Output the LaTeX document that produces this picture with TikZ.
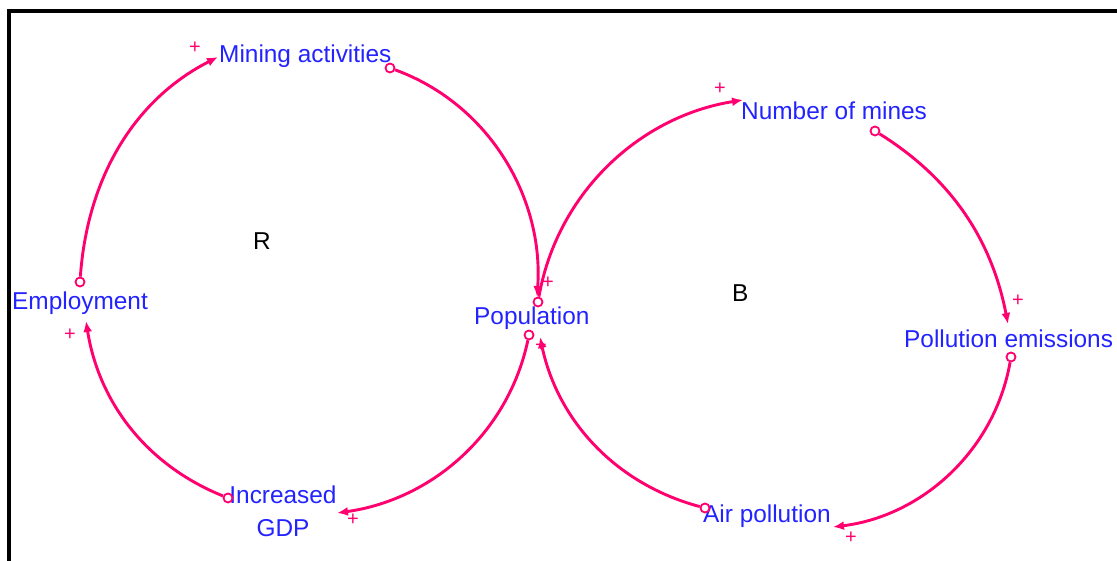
\documentclass[tikz,border=0pt]{standalone}
\usepackage{fontspec}
\setmainfont{Liberation Sans}
\usetikzlibrary{arrows.meta}
\definecolor{linkpink}{RGB}{255,0,110}
\definecolor{varblue}{RGB}{35,35,255}
\begin{document}
\begin{tikzpicture}[x=1pt,y=1pt,
  var/.style={text=varblue, font=\fontsize{24.4}{31}\selectfont, inner sep=0pt, anchor=base west},
  loopname/.style={text=black, font=\fontsize{24.4}{28}\selectfont, inner sep=0pt, anchor=base west},
  tail/.style={circle, draw=linkpink, fill=white, line width=1.8pt, minimum size=9pt, inner sep=0pt},
  link/.style={draw=linkpink, line width=2.9pt, -{Latex[length=11pt,width=9pt]}, looseness=0.95},
  sign/.style={text=linkpink, font=\fontsize{20}{20}\selectfont, inner sep=0pt}
]
\useasboundingbox (0,0) rectangle (1117,561);
% frame
\draw[line width=4pt, miter limit=10] (9.2,-5) -- (9.2,549.7) -- (1125,549.7);

% variables
\node[var] (mining) at (219,498) {Mining activities};
\node[var] (mines) at (741,441) {Number of mines};
\node[var] (employ) at (12,251) {Employment};
\node[var] (pop) at (474,236) {Population};
\node[var] (pollem) at (904,213) {Pollution emissions};
\node[var, align=center, anchor=north] (gdp) at (283,75.5) {Increased\\[2pt]GDP};
\node[var] (air) at (703,38) {Air pollution};

% loop names
\node[loopname] (loopR) at (253,311) {R};
\node[loopname] (loopB) at (732,259) {B};

% tails
\node[tail] (t1) at (390,493) {};
\node[tail] (t2) at (529,226) {};
\node[tail] (t3) at (228,63) {};
\node[tail] (t4) at (80,279) {};
\node[tail] (t5) at (538,259) {};
\node[tail] (t6) at (875,430) {};
\node[tail] (t7) at (1011,204) {};
\node[tail] (t8) at (705,53) {};

% heads
\coordinate (h1) at (537,264);
\coordinate (h2) at (337,48);
\coordinate (h3) at (86,240);
\coordinate (h4) at (218,504);
\coordinate (h5) at (743,461);
\coordinate (h6) at (1008,237);
\coordinate (h7) at (833,34);
\coordinate (h8) at (540,224);

% links
\draw[link] (t1) to[out=-20,in=86] (h1);
\draw[link] (t2) to[out=-102,in=8] (h2);
\draw[link] (t3) to[out=158,in=-81] (h3);
\draw[link] (t4) to[out=86,in=-153] (h4);
\draw[link] (t5) to[out=80,in=-171] (h5);
\draw[link] (t6) to[out=-32,in=101] (h6);
\draw[link] (t7) to[out=-100,in=7] (h7);
\draw[link] (t8) to[out=165,in=-78] (h8);

% signs
\node[sign] (s1) at (195,513) {+};
\node[sign] (s2) at (548,278) {+};
\node[sign] (s3) at (353,41) {+};
\node[sign] (s4) at (70,226) {+};
\node[sign] (s5) at (720,472) {+};
\node[sign] (s6) at (1018,260) {+};
\node[sign] (s7) at (851,23) {+};
\node[sign] (s8) at (541,215) {+};
\end{tikzpicture}
\end{document}
